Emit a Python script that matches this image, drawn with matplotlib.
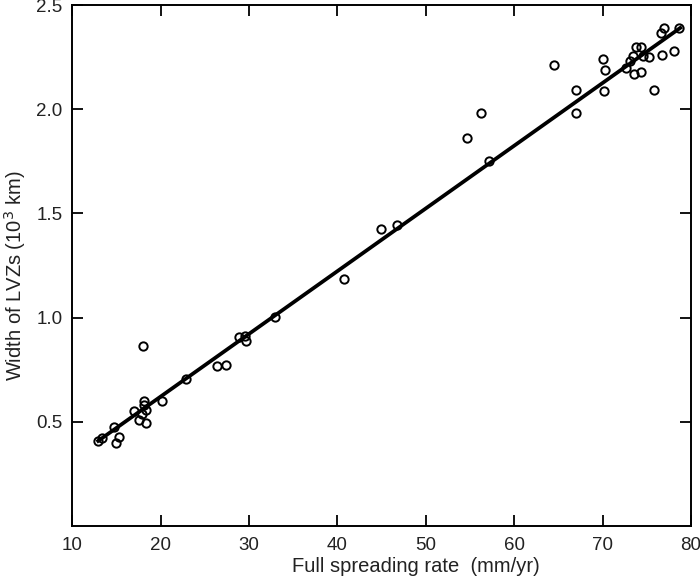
import numpy as np
import matplotlib.pyplot as plt

plt.rcParams['font.family'] = ['Liberation Sans', 'DejaVu Sans']

# spreading rate (mm/yr) and width of LVZs (10^3 km)
rate = [12.98, 13.36, 14.79, 14.97, 15.28, 17.01, 17.58, 17.88, 18.15, 18.18,
        18.33, 18.33, 18.07, 20.21, 22.93, 26.37, 27.42, 28.85, 29.57, 29.65,
        33.0, 40.77, 44.99, 46.73, 54.72, 56.27, 57.17, 64.57, 66.96, 67.03,
        70.08, 70.23, 70.12, 72.66, 73.14, 73.49, 73.52, 73.74, 74.36, 74.58,
        74.4, 75.27, 75.86, 76.74, 76.63, 76.97, 78.07, 78.63]
width = [0.407, 0.42, 0.474, 0.40, 0.427, 0.553, 0.509, 0.539, 0.598, 0.58,
         0.555, 0.493, 0.866, 0.601, 0.707, 0.77, 0.774, 0.908, 0.914, 0.888,
         1.005, 1.183, 1.423, 1.445, 1.863, 1.982, 1.751, 2.212, 2.094, 1.982,
         2.241, 2.188, 2.089, 2.198, 2.233, 2.257, 2.169, 2.297, 2.297, 2.257,
         2.18, 2.25, 2.091, 2.26, 2.364, 2.392, 2.279, 2.389]

# fitted line
slope = 0.0301
intercept = 0.0185
fit_x = [12.95, 78.8]

fig = plt.figure(figsize=(7, 5.83), dpi=100)
ax = fig.add_axes([0.103, 0.0978, 0.884, 0.8936])

fx = np.array(fit_x)
ax.plot(fx, slope * fx + intercept, color='black', lw=2.7, zorder=2)
ax.plot(rate, width, 'o', mfc='none', mec='black', ms=6, mew=1.4, zorder=3)

ax.set_xlim(10, 80)
ax.set_ylim(0, 2.5)
ax.set_xticks([10, 20, 30, 40, 50, 60, 70, 80])
ax.set_yticks([0.5, 1.0, 1.5, 2.0, 2.5])
ax.set_yticklabels(['0.5', '1.0', '1.5', '2.0', '2.5'])
ax.tick_params(direction='in', length=8, width=1.3, top=True, right=True,
               labelsize=13.5, labelcolor='#222222')
ax.tick_params(axis='x', pad=8)
ax.tick_params(axis='y', pad=7)
for s in ax.spines.values():
    s.set_linewidth(1.4)

ax.set_xlabel('Full spreading rate  (mm/yr)', fontsize=14.5, color='#222222', labelpad=2)
ax.set_ylabel('Width of LVZs (10$^{3}$ km)', fontsize=14.5, color='#222222', labelpad=6)
ax.xaxis.label.set_x(0.555)
ax.yaxis.label.set_y(0.48)

fig.savefig('out.png', dpi=100)
